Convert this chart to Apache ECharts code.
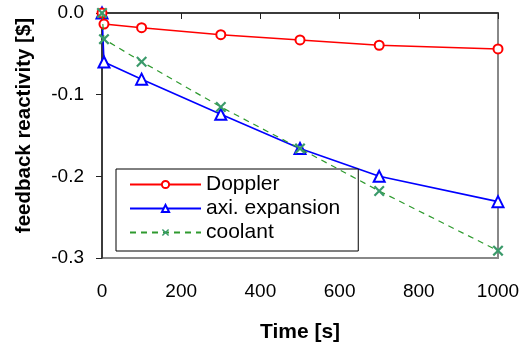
<!DOCTYPE html>
<html>
<head>
<meta charset="utf-8">
<script src="https://cdn.jsdelivr.net/npm/echarts@6/dist/echarts.min.js"></script>
<style>
  html, body { margin: 0; padding: 0; background: #fff; }
  #chart { width: 524px; height: 349px; }
</style>
</head>
<body>
<div id="chart"></div>
<script>
// time points [s]
const times = [0, 5, 100, 300, 500, 700, 1000]
// feedback reactivity [$]
const doppler = [0, -0.0135, -0.018, -0.0266, -0.033, -0.0395, -0.044]
const axialExpansion = [0, -0.06, -0.081, -0.124, -0.166, -0.2, -0.231]
const coolant = [0, -0.032, -0.0596, -0.115, -0.166, -0.218, -0.291]

const seriesNames = ['Doppler', 'axi. expansion', 'coolant']
const xTicks = { min: 0, max: 1000, interval: 200 }
const yTicks = { min: -0.3, max: 0, interval: 0.1 }

const pairs = vals => times.map((t, i) => [t, vals[i]])
const font = 'Arial, "Liberation Sans", sans-serif'
// filled X shape, so it reads like a stroked cross
const crossPath = 'path://M0,1.4L1.4,0L5,3.6L8.6,0L10,1.4L6.4,5L10,8.6L8.6,10L5,6.4L1.4,10L0,8.6L3.6,5Z'

const chart = echarts.init(document.getElementById('chart'))

chart.setOption({
  backgroundColor: '#fff',
  animation: false,
  grid: {
    left: 102, right: 26, top: 13, bottom: 91,
    show: true,
    borderColor: '#888',
    borderWidth: 2,
    backgroundColor: 'transparent',
  },
  legend: {
    orient: 'vertical',
    left: 116,
    top: 169,
    padding: [5, 18, 8, 13],
    itemWidth: 71,
    itemHeight: 9,
    itemGap: 3,
    backgroundColor: '#fff',
    borderColor: '#000',
    borderWidth: 1,
    textStyle: { fontFamily: font, fontSize: 21, color: '#000', lineHeight: 21 },
    data: seriesNames,
  },
  xAxis: {
    type: 'value',
    ...xTicks,
    name: 'Time [s]',
    nameLocation: 'middle',
    nameGap: 64,
    nameTextStyle: { fontFamily: font, fontSize: 21, fontWeight: 'bold', color: '#000' },
    axisLine: { lineStyle: { color: '#222', width: 1.5 } },
    axisTick: { inside: false, length: 6, lineStyle: { color: '#222' } },
    axisLabel: {
      fontFamily: font, fontSize: 19, color: '#000', margin: 24,
      formatter: v => String(v),
    },
    splitLine: { show: false },
  },
  yAxis: {
    type: 'value',
    ...yTicks,
    name: 'feedback reactivity [$]',
    nameLocation: 'middle',
    nameGap: 67,
    nameTextStyle: {
      fontFamily: font, fontSize: 20.5, fontWeight: 'bold', color: '#000',
      padding: [0, 0, 0, 20],
    },
    axisLine: { show: true, lineStyle: { color: '#222', width: 1.5 } },
    axisTick: { show: true, length: 6, lineStyle: { color: '#222' } },
    axisLabel: {
      fontFamily: font, fontSize: 19, color: '#000', margin: 18,
      formatter: v => v.toFixed(1),
    },
    splitLine: { show: false },
  },
  series: [
    {
      name: seriesNames[0],
      type: 'line',
      data: pairs(doppler),
      clip: false,
      symbol: 'emptyCircle',
      symbolSize: 9,
      lineStyle: { color: '#ff0000', width: 1.6 },
      itemStyle: { color: '#ff0000', borderWidth: 1.6 },
      z: 3,
    },
    {
      name: seriesNames[1],
      type: 'line',
      data: pairs(axialExpansion),
      clip: false,
      symbol: 'emptyTriangle',
      symbolSize: 11,
      lineStyle: { color: '#0000ff', width: 1.6 },
      itemStyle: { color: '#0000ff', borderWidth: 1.6 },
      z: 2,
    },
    {
      name: seriesNames[2],
      type: 'line',
      data: pairs(coolant),
      clip: false,
      symbol: crossPath,
      symbolSize: 11,
      lineStyle: { color: '#2e9a2e', width: 1.2, type: [6, 5] },
      itemStyle: { color: '#3a9a6a' },
      z: 4,
    },
  ],
})
</script>
</body>
</html>
